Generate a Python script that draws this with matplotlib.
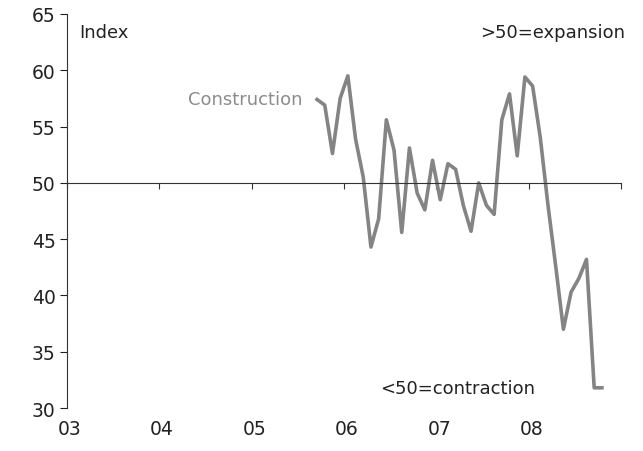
import numpy as np
import matplotlib.pyplot as plt

# monthly construction index, Sep 2005 .. Oct 2008
start_year, start_month = 2005, 9
construction = [57.4, 56.9, 52.6, 57.5, 59.5, 53.9, 50.5, 44.3, 46.8, 55.6,
                52.9, 45.6, 53.1, 49.1, 47.6, 52.0, 48.5, 51.7, 51.2, 48.0,
                45.7, 50.0, 48.0, 47.2, 55.6, 57.9, 52.4, 59.4, 58.6, 54.0,
                48.0, 42.6, 37.0, 40.3, 41.5, 43.2, 31.8, 31.8]
years = [2003, 2004, 2005, 2006, 2007, 2008]
year_labels = ['03', '04', '05', '06', '07', '08']

months = np.arange(len(construction)) + (start_month - 1) + 0.5
x = start_year + months / 12.0

plt.rcParams['font.family'] = 'DejaVu Sans'
fig = plt.figure(figsize=(6.43, 4.52), dpi=100)
ax = fig.add_axes([0.104, 0.095, 0.862, 0.872])

ax.plot(x, construction, color='#848484', lw=2.6, solid_joinstyle='round')

ax.set_xlim(2003, 2009)
ax.set_ylim(30, 65)
ax.set_yticks(np.arange(30, 66, 5))
ax.tick_params(axis='y', direction='out', length=5, width=0.8, labelsize=13.5,
               pad=3, colors='#222222')

# x axis drawn at the 50 line, labels along the bottom
ax.spines['bottom'].set_position(('data', 50))
ax.spines['top'].set_visible(False)
ax.spines['right'].set_visible(False)
ax.spines['left'].set_color('#333333')
ax.spines['bottom'].set_color('#333333')
ax.set_xticks(years + [2009])
ax.set_xticklabels([])
ax.tick_params(axis='x', direction='out', length=4, width=0.8, colors='#333333')

sec = ax.secondary_xaxis(location=0)
sec.set_xticks([y + 0.03 for y in years])
sec.set_xticklabels(year_labels)
sec.spines['bottom'].set_visible(False)
sec.tick_params(length=0, labelsize=13.5, pad=8, colors='#222222')

ax.text(2003.13, 63.4, 'Index', fontsize=13, va='center', ha='left', color='#222222')
ax.text(2009.04, 63.4, '>50=expansion', fontsize=13, va='center', ha='right',
        color='#222222')
ax.text(2006.39, 31.8, '<50=contraction', fontsize=13, va='center', ha='left',
        color='#222222')
ax.text(2005.55, 57.45, 'Construction', fontsize=13, color='#8c8c8c',
        va='center', ha='right')

plt.savefig('out.png', dpi=100)
